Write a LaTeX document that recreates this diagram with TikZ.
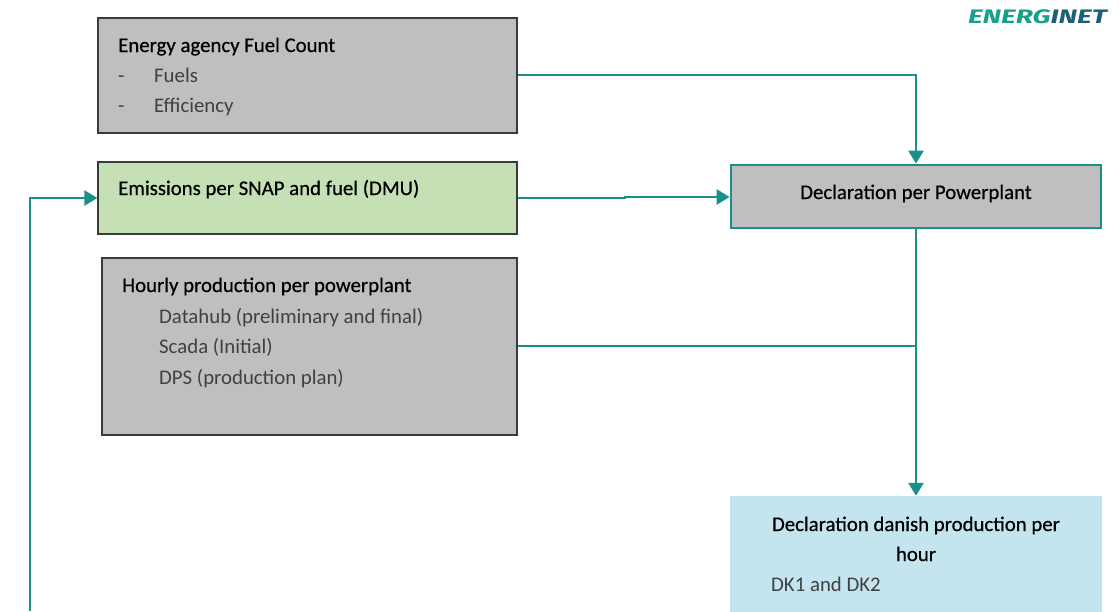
\documentclass[tikz,border=0pt]{standalone}
\usepackage{fontspec}
\setmainfont{Carlito}
\newfontfamily\titlefont[FakeBold=0.6]{Carlito}
\newfontfamily\logofont{Fira Sans}
\usetikzlibrary{arrows.meta}
\definecolor{teal1}{HTML}{1A9088}
\definecolor{boxgray}{HTML}{BFBFBF}
\definecolor{boxgreen}{HTML}{C5E0B4}
\definecolor{boxblue}{HTML}{C4E4F0}
\definecolor{edgegray}{HTML}{3A3A3A}
\definecolor{subgray}{HTML}{404040}
\definecolor{logogreen}{HTML}{18A08A}
\definecolor{logoblue}{HTML}{1B5F78}
\tikzset{
  graybox/.style={draw=edgegray, line width=1.3pt, fill=boxgray, rectangle, inner sep=0pt},
  greenbox/.style={draw=edgegray, line width=1.3pt, fill=boxgreen, rectangle, inner sep=0pt},
  declbox/.style={draw=teal1, line width=2.8pt, fill=boxgray, rectangle, inner sep=0pt},
  bluebox/.style={fill=boxblue, rectangle, inner sep=0pt},
  title/.style={font=\titlefont\fontsize{20.8}{24}\selectfont, text=black, inner sep=0pt},
  sub/.style={font=\fontsize{20.8}{24}\selectfont, text=subgray, inner sep=0pt},
  conn/.style={draw=teal1, line width=2.8pt},
  arr/.style={conn, -{Triangle[length=13pt,width=15pt]}},
}
\begin{document}
\begin{tikzpicture}[x=1pt,y=-1pt]
\useasboundingbox (0,0) rectangle (1120,611);
\fill[white] (0,0) rectangle (1120,611);

% boxes
\node[graybox, minimum width=419pt, minimum height=115pt] (b1) at (307.5,75.5) {};
\node[greenbox, minimum width=419pt, minimum height=72pt] (b2) at (307.5,198) {};
\node[graybox, minimum width=415pt, minimum height=177pt] (b3) at (309.5,346.5) {};
\node[declbox, minimum width=370pt, minimum height=63pt] (b4) at (916,196.5) {};
\node[bluebox, minimum width=372pt, minimum height=120pt] (b5) at (916,556) {};

% texts box1
\node[title, anchor=base west] (t1) at (118,52) {Energy agency Fuel Count};
\node[sub, anchor=base west] (d1) at (118,82) {-};
\node[sub, anchor=base west] (s1) at (154,82) {Fuels};
\node[sub, anchor=base west] (d2) at (118,112) {-};
\node[sub, anchor=base west] (s2) at (154,112) {Efficiency};
% box2
\node[title, anchor=base west] (t2) at (118,195) {Emissions per SNAP and fuel (DMU)};
% box3
\node[title, anchor=base west] (t3) at (122,292) {Hourly production per powerplant};
\node[sub, anchor=base west] (s3) at (159,323) {Datahub (preliminary and final)};
\node[sub, anchor=base west] (s4) at (159,353) {Scada (Initial)};
\node[sub, anchor=base west] (s5) at (159,384) {DPS (production plan)};
% box4
\node[title, anchor=base] (t4) at (916,199) {Declaration per Powerplant};
% box5
\node[title, anchor=base] (t5) at (916,531) {Declaration danish production per};
\node[title, anchor=base] (t6) at (916,561) {hour};
\node[sub, anchor=base west] (s6) at (771,591) {DK1 and DK2};

% logo
\node[anchor=base east, inner sep=0pt, font=\logofont\bfseries\itshape\fontsize{19.5}{22}\selectfont] (logo) at (1107,23.5)
  {\scalebox{1.45}[1]{\textcolor{logogreen}{ENERG}\textcolor{logoblue}{INET}}};

% connectors
\coordinate (j1) at (916,75);
\draw[arr] (b1.east |- 0,75) -- (j1) -- (b4.north);
\coordinate (m1) at (625,198);
\coordinate (m2) at (625,197);
\draw[arr] (b2.east) -- (m1) -- (m2) -- (b4.west |- 0,197);
\coordinate (j2) at (916,346);
\draw[conn] (b3.east |- 0,346) -- (j2);
\draw[arr] (b4.south) -- (b5.north);
\coordinate (f0) at (30,611);
\coordinate (f1) at (30,198);
\draw[arr] (f0) -- (f1) -- (b2.west);
\end{tikzpicture}
\end{document}
